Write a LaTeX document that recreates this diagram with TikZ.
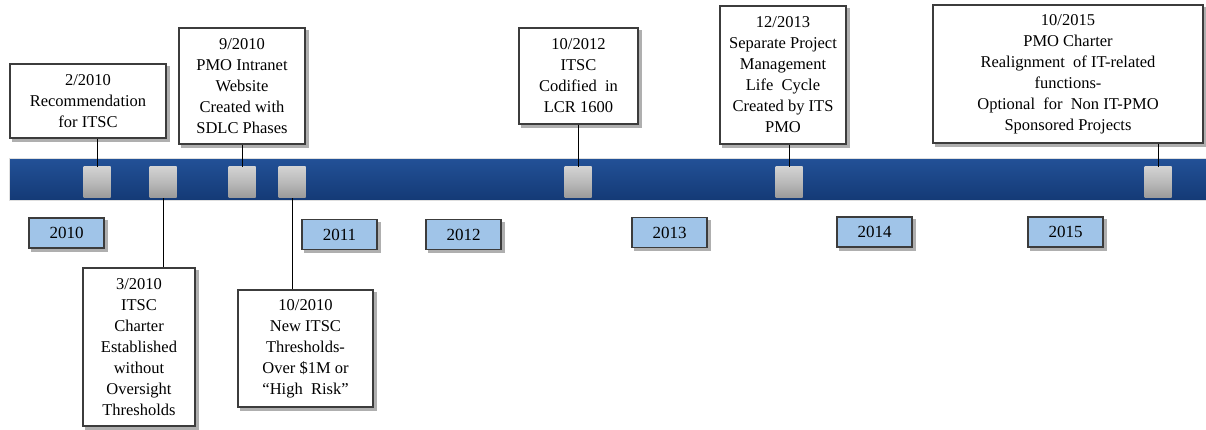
\documentclass[tikz,border=0pt]{standalone}
\usepackage{fontspec}
\setmainfont{Liberation Serif}
\usetikzlibrary{backgrounds}
\pgfdeclarelayer{shadowlayer}
\pgfsetlayers{background,shadowlayer,main}
\definecolor{bartop}{RGB}{34,80,150}
\definecolor{barbot}{RGB}{20,58,118}
\definecolor{yearfill}{RGB}{160,196,232}
\definecolor{boxline}{RGB}{60,60,60}
\definecolor{shadowc}{RGB}{175,175,175}
\tikzset{
  evbox/.style={draw=boxline, line width=1.4pt, fill=white, inner sep=2pt, align=center,
    font=\rmfamily\fontsize{16.5}{21}\selectfont},
  yearbox/.style={draw=boxline, line width=1.3pt, fill=yearfill, minimum width=75pt, minimum height=30pt,
    inner sep=0pt, font=\rmfamily\fontsize{17}{20}\selectfont},
  marker/.style={minimum width=27pt, minimum height=31pt, inner sep=0pt,
    top color=gray!35, bottom color=gray!80, middle color=gray!55},
  conn/.style={draw=black, line width=0.9pt},
  shadowbox/.style={fill=shadowc}
}
\newcommand{\boxshadow}[1]{%
  \begin{pgfonlayer}{shadowlayer}
    \fill[shadowbox] ([shift={(3pt,-3pt)}]#1.south west) rectangle ([shift={(3pt,-3pt)}]#1.north east);
  \end{pgfonlayer}}
\begin{document}
\begin{tikzpicture}[x=1pt,y=-1pt]
\useasboundingbox (0,0) rectangle (1206,430);
\begin{pgfonlayer}{background}
\fill[white] (0,0) rectangle (1206,430);
\end{pgfonlayer}
% bar
\draw[gray!25, line width=3pt] (10,160) rectangle (1210,200);
\shade[top color=bartop, bottom color=barbot] (10,160) rectangle (1210,200);
% markers
\node[marker] (m1) at (97,182.5) {};
\node[marker] (m2) at (163,182.5) {};
\node[marker] (m3) at (242,182.5) {};
\node[marker] (m4) at (292,182.5) {};
\node[marker] (m5) at (578,182.5) {};
\node[marker] (m6) at (789,182.5) {};
\node[marker] (m7) at (1158,182.5) {};
% year boxes
\node[yearbox] (y10) at (66.5,233) {2010};
\node[yearbox] (y11) at (339.5,234.5) {2011};
\node[yearbox] (y12) at (463.5,234.5) {2012};
\node[yearbox] (y13) at (669.5,232.5) {2013};
\node[yearbox] (y14) at (874.5,232) {2014};
\node[yearbox] (y15) at (1065.5,232) {2015};
% event boxes
\node[evbox, minimum width=156pt, minimum height=74pt] (b1) at (88,101) {2/2010\\Recommendation\\for ITSC};
\node[evbox, minimum width=126pt, minimum height=116pt] (b2) at (242,86) {9/2010\\PMO Intranet\\Website\\Created with\\SDLC Phases};
\node[evbox, minimum width=119pt, minimum height=96pt] (b3) at (578.5,76) {10/2012\\ITSC\\Codified\ \ in\\LCR 1600};
\node[evbox, minimum width=126pt, minimum height=138pt] (b4) at (783,75) {12/2013\\Separate Project\\Management\\Life\ \ Cycle\\Created by ITS\\PMO};
\node[evbox, minimum width=270pt, minimum height=138pt] (b5) at (1068,74) {10/2015\\PMO Charter\\Realignment\ \ of IT-related\\functions-\\Optional\ \ for\ \ Non IT-PMO\\Sponsored Projects};
\node[evbox, minimum width=112pt, minimum height=158pt] (b6) at (139,347) {3/2010\\ITSC\\Charter\\Established\\without\\Oversight\\Thresholds};
\node[evbox, minimum width=135pt, minimum height=117pt] (b7) at (305.5,348.5) {10/2010\\New ITSC\\Thresholds-\\Over \$1M or\\“High\ \ Risk”};
% shadows
\boxshadow{b1}\boxshadow{b2}\boxshadow{b3}\boxshadow{b4}\boxshadow{b5}\boxshadow{b6}\boxshadow{b7}
\boxshadow{y10}\boxshadow{y11}\boxshadow{y12}\boxshadow{y13}\boxshadow{y14}\boxshadow{y15}
% connectors
\draw[conn] (b1.south -| m1) -- (m1.north);
\draw[conn] (b2.south -| m3) -- (m3.north);
\draw[conn] (b3.south -| m5) -- (m5.north);
\draw[conn] (b4.south -| m6) -- (m6.north);
\draw[conn] (b5.south -| m7) -- (m7.north);
\draw[conn] (m2.south) -- (m2.south |- b6.north);
\draw[conn] (m4.south) -- (m4.south |- b7.north);
\end{tikzpicture}
\end{document}
